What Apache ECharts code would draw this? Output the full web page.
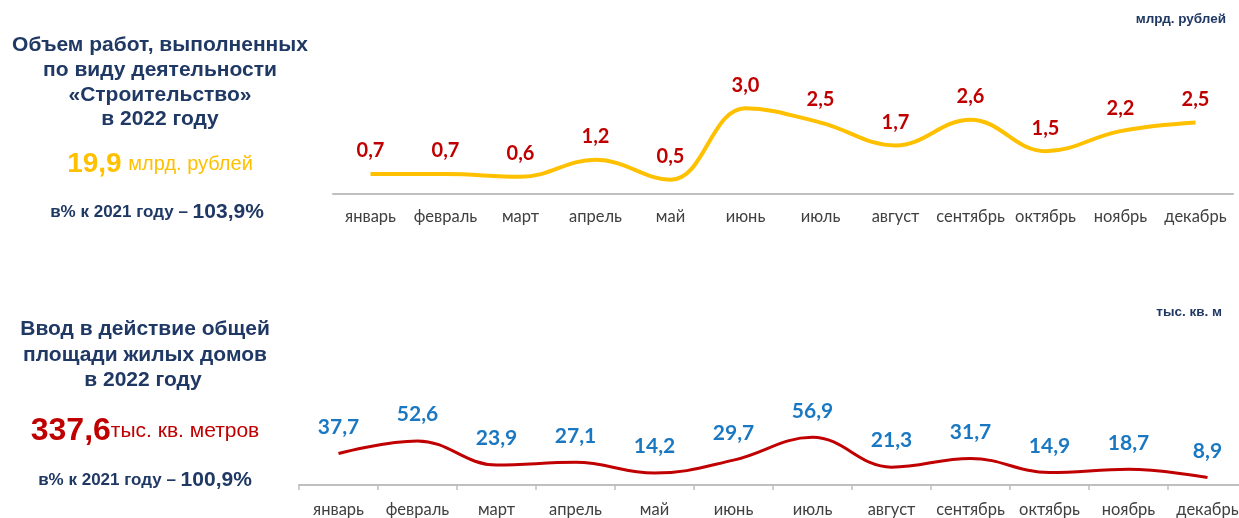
<!DOCTYPE html>
<html>
<head>
<meta charset="utf-8">
<script src="https://cdn.jsdelivr.net/npm/echarts@6/dist/echarts.min.js"></script>
<style>
  html, body { margin: 0; padding: 0; background: #fff; overflow: hidden; }
  #chart { width: 1250px; height: 518px; }
</style>
</head>
<body>
<div id="chart"></div>
<script>
// данные
const months = ['январь', 'февраль', 'март', 'апрель', 'май', 'июнь', 'июль', 'август', 'сентябрь', 'октябрь', 'ноябрь', 'декабрь'];
const worksVolume = [0.7, 0.7, 0.6, 1.2, 0.5, 3.0, 2.5, 1.7, 2.6, 1.5, 2.2, 2.5];
const housingArea = [37.7, 52.6, 23.9, 27.1, 14.2, 29.7, 56.9, 21.3, 31.7, 14.9, 18.7, 8.9];

const navy = '#1f3864';
const labelFont = 'Lato, "Open Sans", sans-serif';
const arial = '"Liberation Sans", Arial, sans-serif';

const fmt = p => String(p.value).includes('.') ? String(p.value).replace('.', ',') : p.value + ',0';

const chart = echarts.init(document.getElementById('chart'));

chart.setOption({
    animation: false,
    backgroundColor: '#fff',
    grid: [
        { left: 333, width: 900, top: 94, height: 100 },
        { left: 299, width: 948, top: 418, height: 69 }
    ],
    xAxis: [
        {
            gridIndex: 0,
            type: 'category',
            data: months,
            axisLine: { lineStyle: { color: '#bfbfbf', width: 2 } },
            axisTick: { show: false },
            axisLabel: { color: '#404040', fontSize: 16.5, fontFamily: labelFont, margin: 14, interval: 0 }
        },
        {
            gridIndex: 1,
            type: 'category',
            data: months,
            axisLine: { lineStyle: { color: '#bfbfbf', width: 2 } },
            axisTick: { show: true, length: 5, lineStyle: { color: '#bfbfbf', width: 1.5 } },
            axisLabel: { color: '#404040', fontSize: 16.5, fontFamily: labelFont, margin: 16, interval: 0 }
        }
    ],
    yAxis: [
        { gridIndex: 0, type: 'value', min: 0, max: 3.5, show: false },
        { gridIndex: 1, type: 'value', min: 0, max: 80, show: false }
    ],
    series: [
        {
            type: 'line',
            xAxisIndex: 0,
            yAxisIndex: 0,
            data: worksVolume,
            smooth: 0.4,
            symbol: 'circle',
            symbolSize: 0,
            lineStyle: { color: '#ffc000', width: 4 },
            itemStyle: { color: '#ffc000' },
            label: {
                show: true,
                position: 'top',
                distance: 13,
                color: '#c00000',
                fontWeight: 'bold',
                fontSize: 20,
                fontFamily: labelFont,
                formatter: fmt
            }
        },
        {
            type: 'line',
            xAxisIndex: 1,
            yAxisIndex: 1,
            data: housingArea,
            smooth: 0.4,
            symbol: 'circle',
            symbolSize: 0,
            lineStyle: { color: '#c00000', width: 3 },
            itemStyle: { color: '#c00000' },
            label: {
                show: true,
                position: 'top',
                distance: 16,
                color: '#1a78c2',
                fontWeight: 'bold',
                fontSize: 21,
                fontFamily: labelFont,
                formatter: fmt
            }
        }
    ],
    graphic: [
        // верхний блок
        { type: 'text', x: 1226, y: 19, style: { text: 'млрд. рублей', fill: navy, font: 'bold 13.5px ' + arial, align: 'right', verticalAlign: 'middle' } },
        { type: 'text', x: 160, y: 45, style: { text: 'Объем работ, выполненных', fill: navy, font: 'bold 21px ' + arial, align: 'center', verticalAlign: 'middle' } },
        { type: 'text', x: 160, y: 70, style: { text: 'по виду деятельности', fill: navy, font: 'bold 21px ' + arial, align: 'center', verticalAlign: 'middle' } },
        { type: 'text', x: 160, y: 95, style: { text: '«Строительство»', fill: navy, font: 'bold 21px ' + arial, align: 'center', verticalAlign: 'middle' } },
        { type: 'text', x: 160, y: 119, style: { text: 'в 2022 году', fill: navy, font: 'bold 21px ' + arial, align: 'center', verticalAlign: 'middle' } },
        {
            type: 'text', x: 160, y: 164,
            style: {
                text: '{a|19,9}  {b|млрд. рублей}',
                align: 'center', verticalAlign: 'middle',
                rich: {
                    a: { fill: '#ffc000', font: 'bold 28px ' + arial },
                    b: { fill: '#ffc000', font: '20px ' + arial }
                }
            }
        },
        {
            type: 'text', x: 157, y: 212,
            style: {
                text: '{a|в% к 2021 году – }{b|103,9%}',
                align: 'center', verticalAlign: 'middle',
                rich: {
                    a: { fill: navy, font: 'bold 17px ' + arial },
                    b: { fill: navy, font: 'bold 21px ' + arial }
                }
            }
        },
        // нижний блок
        { type: 'text', x: 1222, y: 312, style: { text: 'тыс. кв. м', fill: navy, font: 'bold 13.5px ' + arial, align: 'right', verticalAlign: 'middle' } },
        { type: 'text', x: 145, y: 329, style: { text: 'Ввод в действие общей', fill: navy, font: 'bold 21px ' + arial, align: 'center', verticalAlign: 'middle' } },
        { type: 'text', x: 145, y: 355, style: { text: 'площади жилых домов', fill: navy, font: 'bold 21px ' + arial, align: 'center', verticalAlign: 'middle' } },
        { type: 'text', x: 143, y: 380, style: { text: 'в 2022 году', fill: navy, font: 'bold 21px ' + arial, align: 'center', verticalAlign: 'middle' } },
        {
            type: 'text', x: 145, y: 431,
            style: {
                text: '{a|337,6}{b|тыс. кв. метров}',
                align: 'center', verticalAlign: 'middle',
                rich: {
                    a: { fill: '#c00000', font: 'bold 32px ' + arial },
                    b: { fill: '#c00000', font: '21px ' + arial }
                }
            }
        },
        {
            type: 'text', x: 145, y: 480,
            style: {
                text: '{a|в% к 2021 году – }{b|100,9%}',
                align: 'center', verticalAlign: 'middle',
                rich: {
                    a: { fill: navy, font: 'bold 17px ' + arial },
                    b: { fill: navy, font: 'bold 21px ' + arial }
                }
            }
        }
    ]
});

window.addEventListener('resize', function () {
    chart.resize();
});
</script>
</body>
</html>
